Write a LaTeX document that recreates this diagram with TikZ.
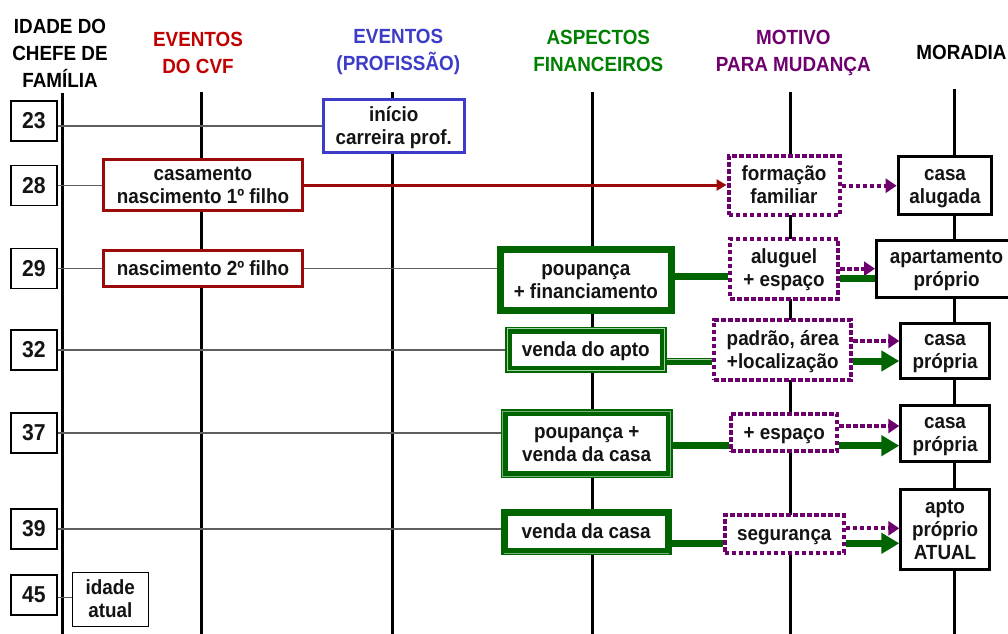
\documentclass[tikz,border=0pt]{standalone}
\usepackage{fontspec}
\setmainfont{Liberation Sans}[FakeStretch=0.92]
\usetikzlibrary{arrows.meta,calc}
\pgfdeclarelayer{bg}
\pgfsetlayers{bg,main}
\definecolor{cvfred}{RGB}{192,0,0}
\definecolor{boxred}{RGB}{155,10,10}
\definecolor{profblue}{RGB}{60,60,200}
\definecolor{fingreen}{RGB}{0,128,0}
\definecolor{boxgreen}{RGB}{0,100,0}
\definecolor{lightgr}{RGB}{170,210,170}
\definecolor{motpurple}{RGB}{110,0,110}
\definecolor{thingray}{RGB}{95,95,95}
% one line of box text with fixed height and depth
\newcommand\fixl[1]{\smash{#1}\rule[-4.5pt]{0pt}{22pt}}
\tikzset{
  txt/.style={font=\fontsize{20.5}{21.5}\selectfont\bfseries, align=center, inner sep=0pt, text=black!92},
  hdr/.style={font=\fontsize{20.5}{27}\selectfont\bfseries, align=center, inner sep=0pt},
  agebox/.style={draw=black, line width=1.2pt, fill=white, minimum width=46pt, minimum height=40pt,
    inner sep=0pt, text=black!92, font=\fontsize{23}{23}\selectfont\bfseries},
  redbox/.style={txt, draw=boxred, line width=3pt, fill=white},
  bluebox/.style={txt, draw=profblue, line width=3pt, fill=white},
  grbox/.style={txt, draw=boxgreen, line width=7pt, fill=white},
  motbox/.style={txt, draw=motpurple, line width=4pt, dash pattern=on 4.5pt off 2.5pt, fill=white},
  morbox/.style={txt, draw=black, line width=3pt, fill=white},
  thinbox/.style={txt, draw=black, line width=1.2pt, fill=white},
  vline/.style={line width=3pt, black},
  rowline/.style={line width=1.3pt, thingray},
  hilite/.style={draw=lightgr, line width=0.9pt},
  redarr/.style={line width=3pt, boxred, -{Triangle[length=10pt,width=11pt]}},
  dotarr/.style={line width=4pt, motpurple, dash pattern=on 4.5pt off 2.5pt, -{Triangle[length=11pt,width=14pt]}},
  grline/.style={line width=7pt, boxgreen},
  grarr/.style={grline, -{Triangle[length=18pt,width=20pt]}},
}
\begin{document}
\begin{tikzpicture}[x=1pt,y=-1pt]
\useasboundingbox (0,0) rectangle (1008,633);

% column lines
\coordinate (axT) at (62.7,93);  \coordinate (axB) at (62.7,640);
\coordinate (cvT) at (201.3,92); \coordinate (cvB) at (201.3,640);
\coordinate (prT) at (392.7,92); \coordinate (prB) at (392.7,640);
\coordinate (fiT) at (592.7,92); \coordinate (fiB) at (592.7,640);
\coordinate (moT) at (790,92);   \coordinate (moB) at (790,640);
\coordinate (mrT) at (954,89);   \coordinate (mrB) at (954,640);

% headers
\node[hdr, text=black]     (hIdade) at (60,53)    {IDADE DO\\CHEFE DE\\FAMÍLIA};
\node[hdr, text=cvfred]    (hCVF)   at (198,53)   {EVENTOS\\DO CVF};
\node[hdr, text=profblue]  (hProf)  at (398.3,52) {EVENTOS\\(PROFISSÃO)};
\node[hdr, text=fingreen]  (hFin)   at (598.3,51) {ASPECTOS\\FINANCEIROS};
\node[hdr, text=motpurple] (hMot)   at (793.3,53) {MOTIVO\\PARA MUDANÇA};
\node[hdr, text=black]     (hMor)   at (961.5,52) {MORADIA};

% age boxes
\node[agebox] (a23) at (34,121)   {23};
\node[agebox] (a28) at (34,185.5) {28};
\node[agebox] (a29) at (34,268.5) {29};
\node[agebox] (a32) at (34,350)   {32};
\node[agebox] (a37) at (34,433)   {37};
\node[agebox] (a39) at (34,529)   {39};
\node[agebox] (a45) at (34,595)   {45};

% event boxes
\node[bluebox, minimum width=141pt, minimum height=53pt] (prof) at (393.7,126) {\fixl{início}\\\fixl{carreira prof.}};
\node[redbox, minimum width=199.6pt, minimum height=51pt] (cas) at (203,185) {\fixl{casamento}\\\fixl{nascimento 1º filho}};
\node[redbox, minimum width=199.6pt, minimum height=35.4pt] (nas2) at (203,268.5) {\fixl{nascimento 2º filho}};

\node[grbox, minimum width=171.3pt, minimum height=61pt] (pf) at (585.8,280) {\fixl{poupança}\\\fixl{+ financiamento}};
\node[grbox, minimum width=154.7pt, minimum height=39pt] (vda) at (585.8,349.7) {\fixl{venda do apto}};
\node[grbox, minimum width=165pt, minimum height=62pt] (pvc) at (586.7,443.8) {\fixl{poupança +}\\\fixl{venda da casa}};
\node[grbox, minimum width=164pt, minimum height=38.7pt] (vc) at (586.2,532.2) {\fixl{venda da casa}};

\node[motbox, minimum width=111pt, minimum height=59pt] (form) at (784,185.7) {\fixl{formação}\\\fixl{familiar}};
\node[motbox, minimum width=108pt, minimum height=60pt] (alug) at (784,268.7) {\fixl{aluguel}\\\fixl{+ espaço}};
\node[motbox, minimum width=137pt, minimum height=59.4pt] (padr) at (782.8,350) {\fixl{padrão, área}\\\fixl{+localização}};
\node[motbox, minimum width=106pt, minimum height=37.6pt] (esp) at (784.3,432.5) {\fixl{+ espaço}};
\node[motbox, minimum width=119.3pt, minimum height=37.7pt] (seg) at (784.3,534.2) {\fixl{segurança}};

\node[morbox, minimum width=93.7pt, minimum height=58pt] (calug) at (945,185.5) {\fixl{casa}\\\fixl{alugada}};
\node[morbox, minimum width=140pt, minimum height=57pt] (apto1) at (946.5,268.7) {\fixl{apartamento}\\\fixl{próprio}};
\node[morbox, minimum width=88.4pt, minimum height=55.3pt] (cp1) at (945,350.8) {\fixl{casa}\\\fixl{própria}};
\node[morbox, minimum width=88.4pt, minimum height=56pt] (cp2) at (945,433.8) {\fixl{casa}\\\fixl{própria}};
\node[morbox, minimum width=88.4pt, minimum height=79.4pt] (atual) at (945,529.5) {\fixl{apto}\\\fixl{próprio}\\\fixl{ATUAL}};

\node[thinbox, minimum width=76pt, minimum height=54.5pt] (ia) at (110.3,599.5) {\fixl{idade}\\\fixl{atual}};

% light inner stripes of the green boxes
\draw[hilite] ([shift={(2pt,-2pt)}]vda.north west) rectangle ([shift={(-2pt,2pt)}]vda.south east);
\draw[hilite, draw=lightgr!70!boxgreen] ([shift={(2pt,-2pt)}]pvc.north west) rectangle ([shift={(-2pt,2pt)}]pvc.south east);
\draw[hilite, draw=lightgr!70!boxgreen] ([shift={(3pt,2pt)}]vc.south west) -- ([shift={(-3pt,2pt)}]vc.south east);

% background lines
\begin{pgfonlayer}{bg}
  \fill[white] (0,0) rectangle (1008,633);
  \draw[vline] (axT) -- (axB);
  \draw[vline] (cvT) -- (cvB);
  \draw[vline] (prT) -- (prB);
  \draw[vline] (fiT) -- (fiB);
  \draw[vline] (moT) -- (moB);
  \draw[vline] (mrT) -- (mrB);
  \draw[rowline] (a23.east |- prof.west) -- (prof.west);
  \draw[rowline] (a28.east) -- (a28.east -| cas.west);
  \draw[rowline] (a29.east) -- (a29.east -| pf.west);
  \draw[rowline] (a32.east) -- (a32.east -| vda.west);
  \draw[rowline] (a37.east) -- (a37.east -| pvc.west);
  \draw[rowline] (a39.east) -- (a39.east -| vc.west);
  \draw[rowline] ([yshift=-2.7pt]a45.east) -- ([yshift=-2.7pt]a45.east -| ia.west);
\end{pgfonlayer}

% connectors
\draw[redarr] (cas.east) -- (cas.east -| form.west);
\draw[dotarr] (form.east) -- (form.east -| calug.west);

\coordinate (p1) at ([yshift=3.3pt]pf.east);
\draw[grline] (p1) -- (p1 -| alug.west);
\draw[dotarr] (alug.east) -- (alug.east -| apto1.west);
\coordinate (p2) at ([yshift=-9.6pt]alug.east);
\draw[grline] (p2) -- (p2 -| apto1.west);

\coordinate (p3) at ([yshift=-11.3pt]vda.east);
\draw[grline] (p3) -- (p3 -| padr.west);
\coordinate (p3b) at ([yshift=1.5pt]p3);
\draw[hilite] (p3b) -- (p3b -| padr.west);
\coordinate (p4) at ([yshift=9pt]padr.east);
\draw[dotarr] (p4) -- (p4 -| cp1.west);
\coordinate (p5) at ([yshift=-11pt]padr.east);
\draw[grarr] (p5) -- (p5 -| cp1.west);

\coordinate (p6) at ([yshift=-2pt]pvc.east);
\draw[grline] (p6) -- (p6 -| esp.west);
\coordinate (p7) at ([yshift=6.5pt]esp.east);
\draw[dotarr] (p7) -- (p7 -| cp2.west);
\coordinate (p8) at ([yshift=-13.2pt]esp.east);
\draw[grarr] (p8) -- (p8 -| cp2.west);

\coordinate (p9) at ([yshift=-11pt]vc.east);
\draw[grline] (p9) -- (p9 -| seg.west);
\coordinate (p10) at ([yshift=5.9pt]seg.east);
\draw[dotarr] (p10) -- (p10 -| atual.west);
\coordinate (p11) at ([yshift=-9.1pt]seg.east);
\draw[grarr] (p11) -- (p11 -| atual.west);
\end{tikzpicture}
\end{document}
